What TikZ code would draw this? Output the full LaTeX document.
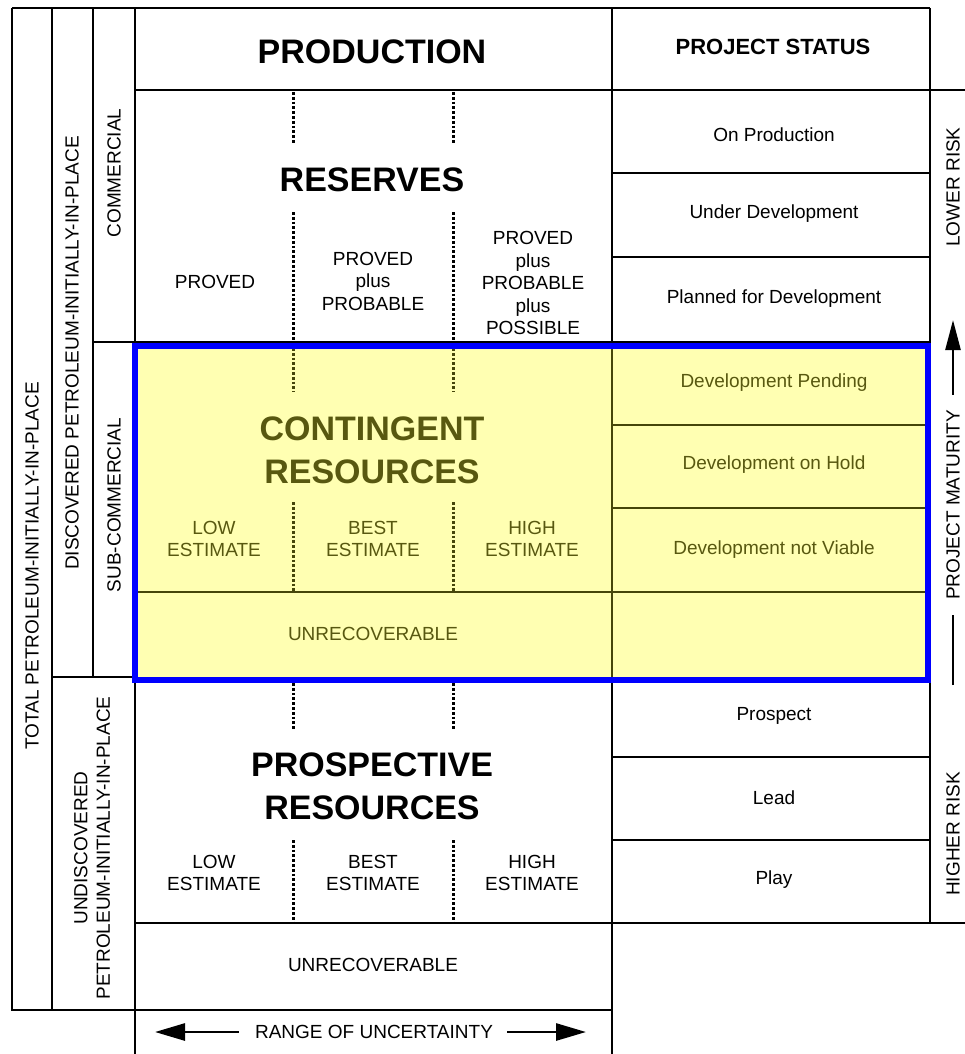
\documentclass[tikz,border=0pt]{standalone}
\usepackage{fontspec}
\setmainfont{Liberation Sans}
\usetikzlibrary{arrows.meta}
\definecolor{cfill}{RGB}{255,255,178}
\definecolor{ctext}{RGB}{88,88,16}
\definecolor{cline}{RGB}{70,70,10}
\definecolor{cblue}{RGB}{0,0,255}
\begin{document}
\begin{tikzpicture}[x=1pt,y=-1pt,
  grid/.style={line width=2.7pt,black},
  ogrid/.style={line width=2.7pt,cline},
  dots/.style={line width=3pt,dash pattern=on 2.8pt off 2pt},
  txt/.style={font=\fontsize{19}{22.5}\selectfont,align=center,inner sep=0pt},
  big/.style={font=\bfseries\fontsize{34}{43}\selectfont,align=center,inner sep=0pt},
  hdr/.style={font=\bfseries\fontsize{22}{26}\selectfont,inner sep=0pt},
  arr/.style={line width=2.8pt,-{Triangle[length=30pt,width=17pt]}},
  varr/.style={line width=2.5pt,-{Triangle[length=30pt,width=15pt]}},
]
\useasboundingbox (0,0) rectangle (965,1054);
\fill[white] (0,0) rectangle (965,1054);
% yellow area
\fill[cfill] (135,346) rectangle (928,680);
% grid
\draw[grid] (12,8) -- (930,8);
\draw[grid] (12,8) -- (12,1010) -- (612,1010);
\draw[grid] (52,8) -- (52,1010);
\draw[grid] (93,8) -- (93,677);
\draw[grid] (135,8) -- (135,1054);
\draw[grid] (612,8) -- (612,346);
\draw[grid] (612,680) -- (612,1054);
\draw[ogrid] (612,346) -- (612,680);
\draw[grid] (930,8) -- (930,923);
\draw[grid] (135,90) -- (965,90);
\draw[grid] (612,173) -- (930,173);
\draw[grid] (612,257) -- (930,257);
\draw[grid] (93,342) -- (930,342);
\draw[grid] (52,677) -- (135,677);
\draw[ogrid] (612,425) -- (928,425);
\draw[ogrid] (612,508) -- (928,508);
\draw[ogrid] (135,592) -- (928,592);
\draw[grid] (612,757) -- (930,757);
\draw[grid] (612,840) -- (930,840);
\draw[grid] (135,923) -- (965,923);
% dotted dividers
\foreach \x in {293,453}{
  \draw[dots] (\x,92) -- (\x,143);
  \draw[dots] (\x,212) -- (\x,342);
  \draw[dots,cline] (\x,348) -- (\x,392);
  \draw[dots,cline] (\x,502) -- (\x,592);
  \draw[dots] (\x,683) -- (\x,730);
  \draw[dots] (\x,840) -- (\x,923);
}
% blue frame
\draw[cblue,line width=6pt] (134.5,346) rectangle (928,680);
% main texts
\node[big] (prod) at (372,52) {PRODUCTION};
\node[big] (res) at (372,180) {RESERVES};
\node[txt] (proved) at (215,282) {PROVED};
\node[txt] (pp) at (373,281) {PROVED\\plus\\PROBABLE};
\node[txt] (ppp) at (533,283) {PROVED\\plus\\PROBABLE\\plus\\POSSIBLE};
\node[big,text=ctext] (cont) at (372,450) {CONTINGENT\\RESOURCES};
\node[txt,text=ctext] (clow) at (214,539) {LOW\\ESTIMATE};
\node[txt,text=ctext] (cbest) at (373,539) {BEST\\ESTIMATE};
\node[txt,text=ctext] (chigh) at (532,539) {HIGH\\ESTIMATE};
\node[txt,text=ctext] (cunrec) at (373,634) {UNRECOVERABLE};
\node[big] (prosp) at (372,786) {PROSPECTIVE\\RESOURCES};
\node[txt] (plow) at (214,873) {LOW\\ESTIMATE};
\node[txt] (pbest) at (373,873) {BEST\\ESTIMATE};
\node[txt] (phigh) at (532,873) {HIGH\\ESTIMATE};
\node[txt] (punrec) at (373,965) {UNRECOVERABLE};
% range of uncertainty
\node[txt] (range) at (374,1032) {RANGE OF UNCERTAINTY};
\coordinate (rl) at (155,1032);
\coordinate (rr) at (586,1032);
\draw[arr] ([xshift=-16pt]range.west) -- (rl);
\draw[arr] ([xshift=14pt]range.east) -- (rr);
% project status
\node[hdr] (ps) at (773,47) {PROJECT STATUS};
\node[txt] (s1) at (774,135) {On Production};
\node[txt] (s2) at (774,214) {Under Development};
\node[txt] (s3) at (774,299) {Planned for Development};
\node[txt,text=ctext] (s4) at (774,383) {Development Pending};
\node[txt,text=ctext] (s5) at (774,465) {Development on Hold};
\node[txt,text=ctext] (s6) at (774,550) {Development not Viable};
\node[txt] (s7) at (774,716) {Prospect};
\node[txt] (s8) at (774,798) {Lead};
\node[txt] (s9) at (774,880) {Play};
% rotated labels
\node[txt,rotate=90] (tpiip) at (32,566) {TOTAL PETROLEUM-INITIALLY-IN-PLACE};
\node[txt,rotate=90] (dpiip) at (72,353) {DISCOVERED PETROLEUM-INITIALLY-IN-PLACE};
\node[txt,rotate=90] (comm) at (114,173) {COMMERCIAL};
\node[txt,rotate=90] (subc) at (114,505) {SUB-COMMERCIAL};
\node[txt,rotate=90] (upiip) at (92,848) {UNDISCOVERED\\PETROLEUM-INITIALLY-IN-PLACE};
\node[txt,rotate=90] (lr) at (953,187) {LOWER RISK};
\node[txt,rotate=90] (hr) at (953,834) {HIGHER RISK};
\node[txt,rotate=90,inner xsep=15pt] (pm) at (953,505) {PROJECT MATURITY};
\coordinate (pmb) at (953,685);
\coordinate (pmt) at (953,320);
\draw[line width=2.5pt] (pmb) -- (pm.west);
\draw[varr] (pm.east) -- (pmt);
\end{tikzpicture}
\end{document}
